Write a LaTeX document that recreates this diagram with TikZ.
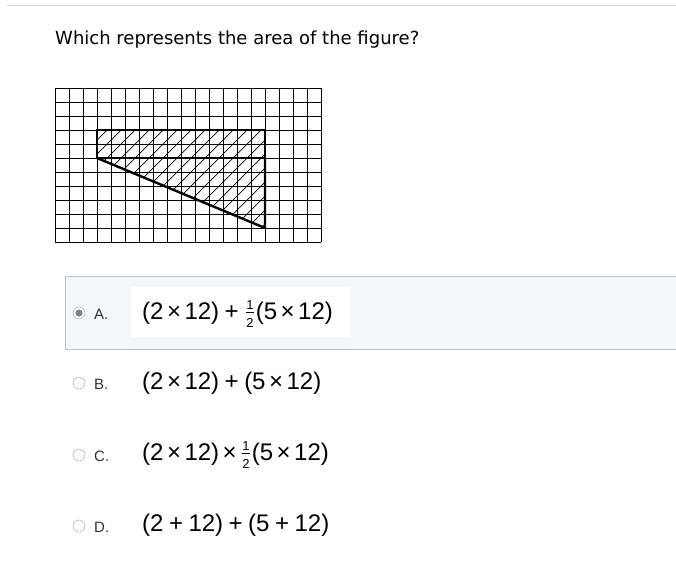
\documentclass[tikz,border=0pt]{standalone}
\usepackage{amsmath}
\usepackage{fontspec}
\setmainfont{Liberation Sans}
\newfontfamily\qfont{DejaVu Sans}
\definecolor{boxbg}{HTML}{F4F6FA}
\definecolor{boxline}{HTML}{B7C0D6}
\definecolor{rulegray}{HTML}{D4D4D4}
\definecolor{radiogray}{HTML}{9A9A9A}
\definecolor{labelgray}{HTML}{333333}
\newcommand{\halfnum}{\hspace{1pt}$\genfrac{}{}{0.6pt}{}{\mbox{\fontsize{13}{13}\selectfont 1}}{\mbox{\fontsize{13}{13}\selectfont 2}}$\hspace{1pt}}
\newcommand{\tms}{\hspace{3.5pt}×\hspace{3.5pt}}
\newcommand{\pls}{\hspace{5.5pt}+\hspace{5.5pt}}
\begin{document}
\begin{tikzpicture}[x=1pt,y=-1pt,
    radio/.style={circle,draw=radiogray,fill=white,inner sep=0pt,minimum size=12pt},
    optlabel/.style={anchor=base west,inner sep=0pt,text=labelgray,font=\fontsize{15}{15}\selectfont},
    expr/.style={anchor=base west,inner sep=0pt,font=\fontsize{24}{24}\selectfont}]
  \useasboundingbox (0,0) rectangle (676,576);
  \draw[rulegray] (7,5) -- (676,5);
  \node[anchor=base west,inner sep=0pt,font=\qfont\fontsize{18}{18}\selectfont] (question) at (55,44)
    {Which represents the area of the figure?};
  % grid
  \foreach \c in {0,...,19}
    \draw[line width=0.9pt] (55+14*\c,88) -- (55+14*\c,242);
  \foreach \r in {0,...,11}
    \draw[line width=0.9pt] (55,88+14*\r) -- (321,88+14*\r);
  \coordinate (tl) at (97,130);
  \coordinate (tr) at (265,130);
  \coordinate (ml) at (97,158);
  \coordinate (mr) at (265,158);
  \coordinate (br) at (265,228);
  \begin{scope}
    \clip (tl) -- (tr) -- (br) -- (ml) -- cycle;
    \foreach \h in {0,...,25}
      \draw[line width=0.7pt] (107+14*\h,130) -- ++(-100,100);
  \end{scope}
  \draw[line width=2.4pt] (tl) rectangle (mr);
  \draw[line width=2.4pt,line join=round] (ml) -- (br) -- (mr);
  % answers
  \draw[boxline,fill=boxbg] (677,276) -- (65,276) -- (65,349) -- (677,349);
  \fill[white] (131,287) rectangle (350,337);
  \node[radio] (ra) at (79,313) {};
  \fill[gray] (ra) circle (3.6pt);
  \node[radio] (rb) at (79,383) {};
  \node[radio] (rc) at (79,455) {};
  \node[radio] (rd) at (79,526) {};
  \node[optlabel] (la) at (94,319) {A.};
  \node[optlabel] (lb) at (94,389) {B.};
  \node[optlabel] (lc) at (94,461) {C.};
  \node[optlabel] (ld) at (94,532) {D.};
  \node[expr] (ea) at (142,319) {(2\tms 12)\pls\halfnum(5\tms 12)};
  \node[expr] (eb) at (142,389) {(2\tms 12)\pls(5\tms 12)};
  \node[expr] (ec) at (142,460) {(2\tms 12)\tms\halfnum(5\tms 12)};
  \node[expr] (ed) at (142,531) {(2\pls 12)\pls(5\pls 12)};
\end{tikzpicture}
\end{document}
